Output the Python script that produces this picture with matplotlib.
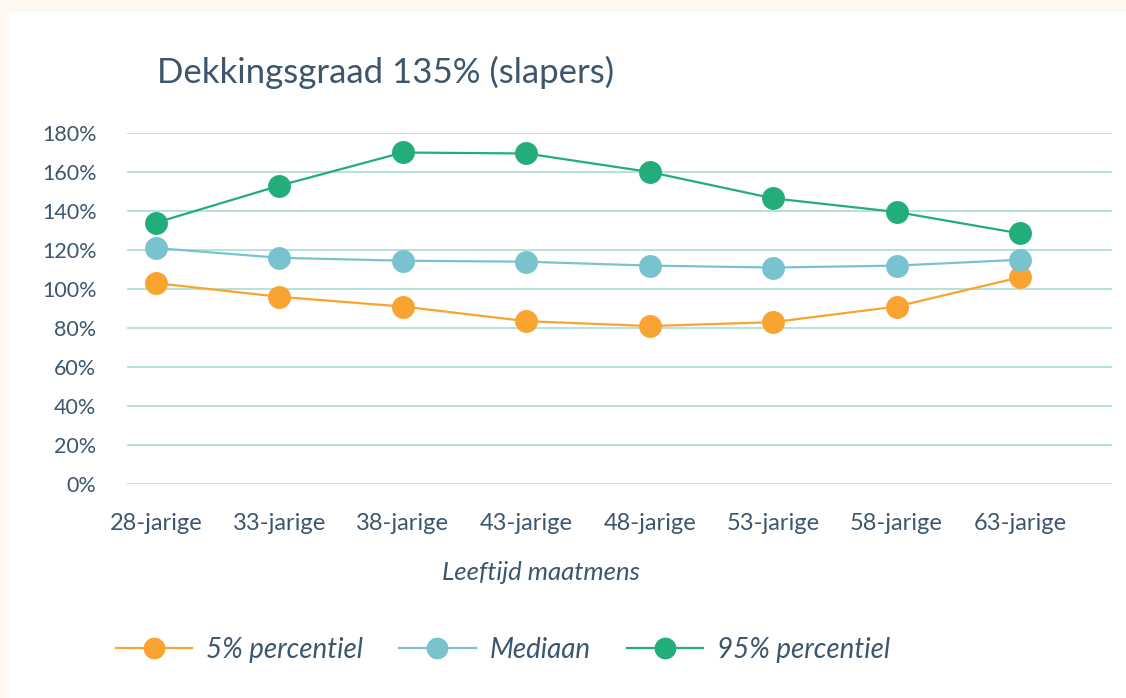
import matplotlib.pyplot as plt
import matplotlib.patches as mpatches
from matplotlib.ticker import FuncFormatter

categories = ['28-jarige', '33-jarige', '38-jarige', '43-jarige',
              '48-jarige', '53-jarige', '58-jarige', '63-jarige']
p5 = [103, 96, 91, 83.5, 81, 83, 91, 106]
median = [121, 116, 114.5, 114, 112, 111, 112, 115]
p95 = [134, 153, 170, 169.5, 160, 146.5, 139.5, 128.5]

text_color = '#3d566e'
grid_color = '#a9ddd4'
series = [
    ('5% percentiel', p5, '#f9a430'),
    ('Mediaan', median, '#79c3cf'),
    ('95% percentiel', p95, '#23ad7a'),
]

plt.rcParams['font.family'] = ['Lato', 'DejaVu Sans']

W, H = 1126, 698
fig = plt.figure(figsize=(W / 100, H / 100), dpi=100)
fig.patch.set_facecolor('#fef8f0')
fig.patches.append(mpatches.Rectangle((9 / W, 0), 1, 1 - 12 / H, transform=fig.transFigure,
                                      facecolor='white', edgecolor='none', zorder=-10))

ax = fig.add_axes([127 / W, 1 - 484 / H, (1112 - 127) / W, (484 - 133) / H])
ax.patch.set_alpha(0)

x = list(range(len(categories)))
for label, vals, color in series:
    ax.plot(x, vals, color=color, lw=1.6, marker='o', markersize=16.5,
            markeredgewidth=0, label=label, zorder=3)

ax.set_ylim(0, 180)
ax.set_yticks(range(0, 181, 20))
ax.yaxis.set_major_formatter(FuncFormatter(lambda v, p: f'{int(v)}%'))
ax.set_xlim(-29 / 123.4, 7 + 92 / 123.4)
ax.set_xticks(x)
ax.set_xticklabels(categories)
ax.grid(axis='y', color=grid_color, lw=1.2, zorder=0)
ax.grid(axis='x', visible=False)
for s in ax.spines.values():
    s.set_visible(False)
ax.tick_params(axis='y', length=0, pad=22, labelsize=15.5, labelcolor=text_color)
ax.tick_params(axis='x', length=0, pad=21, labelsize=17, labelcolor=text_color)

fig.text(157 / W, 1 - 72 / H, 'Dekkingsgraad 135% (slapers)', fontsize=25,
         color=text_color, va='center', ha='left')
fig.text(541 / W, 1 - 573 / H, 'Leeftijd maatmens', fontsize=18.5, style='italic',
         color=text_color, va='center', ha='center')

fig.legend(loc='center', bbox_to_anchor=(503 / W, 1 - 650 / H), ncol=3, frameon=False,
           labelcolor=text_color, prop={'style': 'italic', 'size': 20},
           handlelength=2.75, handletextpad=0.5, columnspacing=1.3, markerscale=0.95)

fig.savefig('out.png', dpi=100, facecolor=fig.get_facecolor())
